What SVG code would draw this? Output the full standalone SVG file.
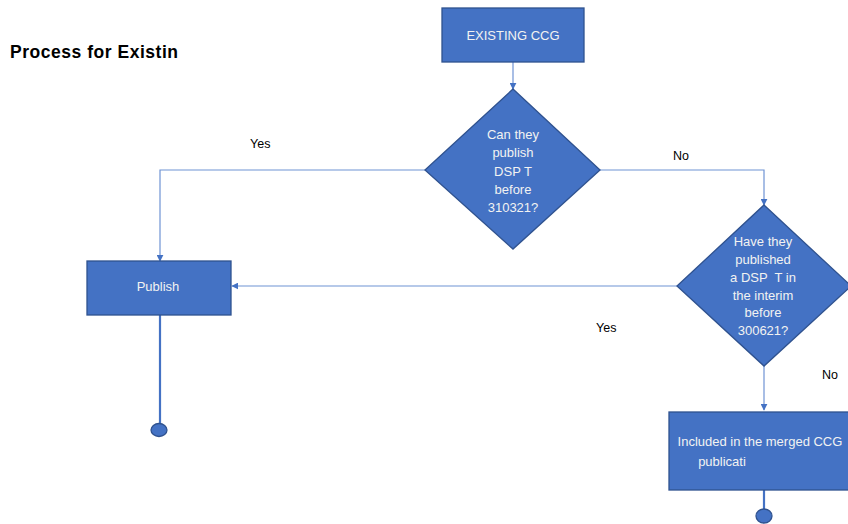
<svg xmlns="http://www.w3.org/2000/svg" width="848" height="524" viewBox="0 0 848 524">
<style>
.shape{fill:#4472C4;stroke:#2F528F;stroke-width:1.3}
.t{font-family:"Liberation Sans",Arial,sans-serif;font-size:13px;fill:#F2F2F2;text-anchor:middle;white-space:pre}
.lbl{font-family:"Liberation Sans",Arial,sans-serif;font-size:12.5px;fill:#000}
.c{fill:none;stroke:#6F93D4;stroke-width:1.2}
.thick{fill:none;stroke:#4472C4;stroke-width:2.2}
</style>
<defs>
<marker id="ah" viewBox="0 0 10 10" refX="9" refY="5" markerWidth="7" markerHeight="7" markerUnits="userSpaceOnUse" orient="auto">
<path d="M0,0 L10,5 L0,10 z" fill="#4472C4"/>
</marker>
</defs>
<rect width="848" height="524" fill="#fff"/>
<text x="10" y="58" font-family="'Liberation Sans',Arial,sans-serif" font-weight="bold" font-size="17.5" fill="#000" textLength="168">Process for Existin</text>
<g id="connectors">
<path class="c" d="M513,62 V89" marker-end="url(#ah)"/>
<path class="c" d="M425,170 H160 V261" marker-end="url(#ah)"/>
<path class="c" d="M600,170 H764 V205" marker-end="url(#ah)"/>
<path class="c" d="M677,286 H232" marker-end="url(#ah)"/>
<path class="c" d="M764,366 V410" marker-end="url(#ah)"/>
<path class="thick" d="M160,315 V424"/>
<path class="thick" d="M764,490 V510"/>
</g>
<g id="labels">
<text class="lbl" x="250" y="148">Yes</text>
<text class="lbl" x="673" y="160">No</text>
<text class="lbl" x="596" y="332">Yes</text>
<text class="lbl" x="822" y="379">No</text>
</g>
<g id="existing">
<rect class="shape" x="442" y="8" width="142" height="54"/>
<text class="t" x="513" y="40">EXISTING CCG</text>
</g>
<g id="decision1">
<polygon class="shape" points="513,89 600,170 513,249 425,170"/>
<text class="t" x="513" y="139">Can they</text>
<text class="t" x="513" y="157">publish</text>
<text class="t" x="513" y="176">DSP T</text>
<text class="t" x="513" y="194">before</text>
<text class="t" x="513" y="212">310321?</text>
</g>
<g id="publish">
<rect class="shape" x="87" y="261" width="144" height="54"/>
<text class="t" x="158" y="291">Publish</text>
</g>
<g id="end1">
<ellipse class="shape" cx="159" cy="430" rx="8" ry="6.5"/>
</g>
<g id="decision2">
<polygon class="shape" points="764,205 851,286 764,366 677,286"/>
<text class="t" x="763" y="246">Have they</text>
<text class="t" x="763" y="264">published</text>
<text class="t" x="763" y="282" xml:space="preserve">a DSP  T in</text>
<text class="t" x="763" y="300">the interim</text>
<text class="t" x="763" y="317">before</text>
<text class="t" x="763" y="335">300621?</text>
</g>
<g id="merged">
<rect class="shape" x="669" y="412" width="181" height="78"/>
<text class="t" x="760" y="446">Included in the merged CCG</text>
<text class="t" x="722" y="466">publicati</text>
</g>
<g id="end2">
<ellipse class="shape" cx="764" cy="516" rx="8" ry="7"/>
</g>
</svg>
